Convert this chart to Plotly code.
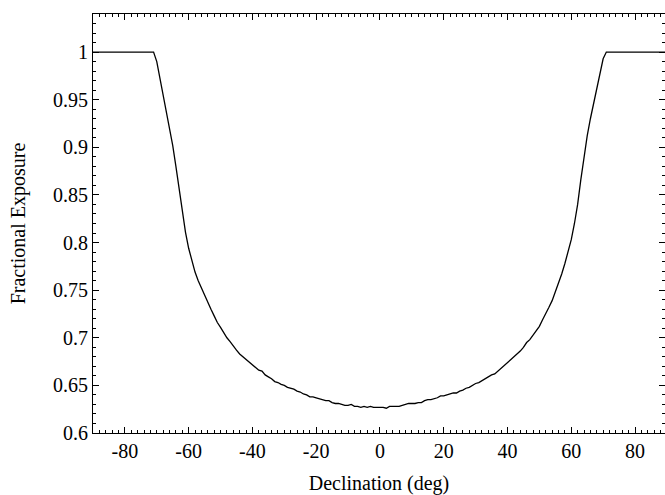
import plotly.graph_objects as go

# Declination (deg)
dec = [-90] + list(range(-71, 72)) + [90]

# Fractional exposure
exposure = [
    1.000,
    1.000, 0.990, 0.973, 0.956, 0.937, 0.920, 0.902, 0.880, 0.855, 0.831,
    0.811, 0.794, 0.780, 0.769, 0.760, 0.752, 0.745, 0.738, 0.730, 0.723,
    0.716, 0.711, 0.705, 0.700, 0.696, 0.691, 0.687, 0.683, 0.680, 0.677,
    0.674, 0.671, 0.669, 0.666, 0.665, 0.661, 0.659, 0.657, 0.654, 0.653,
    0.651, 0.650, 0.648, 0.647, 0.646, 0.644, 0.643, 0.641, 0.640, 0.638,
    0.638, 0.637, 0.636, 0.635, 0.634, 0.634, 0.632, 0.631, 0.631, 0.630,
    0.629, 0.629, 0.630, 0.628, 0.628, 0.627, 0.628, 0.627, 0.628, 0.627,
    0.627,
    0.627,
    0.627, 0.626, 0.628, 0.628, 0.628, 0.628, 0.629, 0.630, 0.631, 0.631,
    0.631, 0.632, 0.632, 0.634, 0.635, 0.635, 0.636, 0.637, 0.639, 0.639,
    0.640, 0.641, 0.642, 0.642, 0.644, 0.645, 0.647, 0.648, 0.650, 0.652,
    0.653, 0.655, 0.657, 0.659, 0.661, 0.662, 0.665, 0.668, 0.670, 0.673,
    0.677, 0.679, 0.682, 0.686, 0.690, 0.695, 0.698, 0.703, 0.708, 0.712,
    0.719, 0.725, 0.732, 0.739, 0.748, 0.757, 0.767, 0.778, 0.790, 0.803,
    0.820, 0.840, 0.866, 0.890, 0.912, 0.930, 0.946, 0.962, 0.977, 0.993,
    1.000,
    1.000,
]

x_ticks = [-80, -60, -40, -20, 0, 20, 40, 60, 80]
x_labels = ["-80", "-60", "-40", "-20", "0", "20", "40", "60", "80"]
y_ticks = [0.6, 0.65, 0.7, 0.75, 0.8, 0.85, 0.9, 0.95, 1.0]
y_labels = ["0.6", "0.65", "0.7", "0.75", "0.8", "0.85", "0.9", "0.95", "1"]

fig = go.Figure()
fig.add_trace(go.Scatter(
    x=dec, y=exposure, mode="lines",
    line=dict(color="black", width=1.3),
    showlegend=False,
))

font = dict(family="Liberation Serif, Times New Roman, serif", size=20, color="black")

axis_common = dict(
    showline=True, linecolor="black", linewidth=1, mirror="allticks",
    ticks="inside", ticklen=6, tickcolor="black", tickwidth=1,
    showgrid=False, zeroline=False,
    tickfont=font,
)

fig.update_xaxes(
    range=[-90, 89.4],
    tickvals=x_ticks, ticktext=x_labels,
    minor=dict(ticks="inside", ticklen=3, tickcolor="black", tick0=0, dtick=2, showgrid=False),
    title=dict(text="Declination (deg)", font=font, standoff=14),
    **axis_common,
)
fig.update_yaxes(
    range=[0.6, 1.04],
    tickvals=y_ticks, ticktext=y_labels,
    minor=dict(ticks="inside", ticklen=3, tickcolor="black", tick0=0.6, dtick=0.01, showgrid=False),
    title=dict(text="Fractional Exposure", font=font, standoff=22),
    **axis_common,
)

fig.update_layout(
    width=665, height=495,
    margin=dict(l=93, r=0, t=14, b=62),
    plot_bgcolor="white", paper_bgcolor="white",
    font=font,
)

fig.write_html("out.html")
